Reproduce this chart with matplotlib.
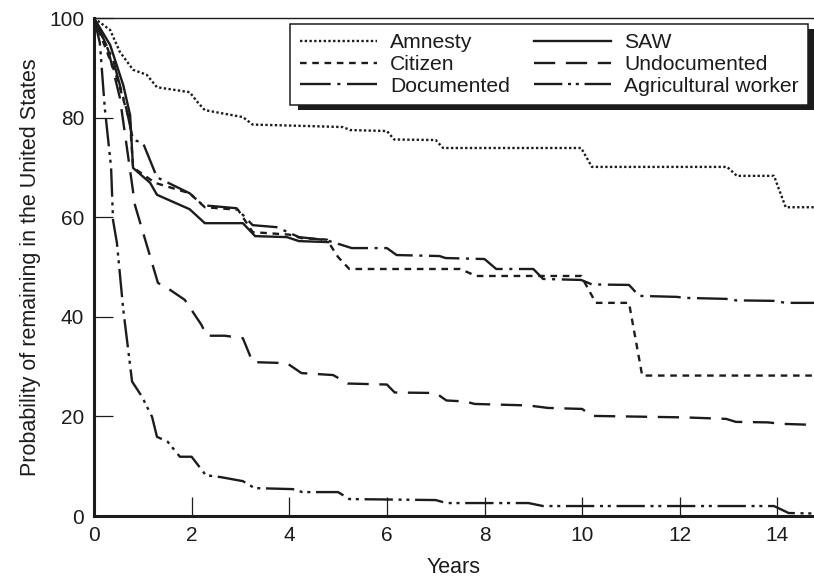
import matplotlib
matplotlib.use("Agg")
import matplotlib.pyplot as plt
import matplotlib.patheffects as pe

plt.rcParams['font.family'] = ['Liberation Sans', 'DejaVu Sans']

# curves (years, percent remaining)
amnesty_x = [0, 0.33, 0.53, 0.8, 1.08, 1.29, 1.96, 2.13, 2.27, 3.05, 3.25, 4.4, 5.1, 5.25, 6.0, 6.15, 7.0, 7.15,
             9.98, 10.2, 12.97, 13.17, 13.93, 14.17, 14.75]
amnesty_y = [100, 97.6, 93.2, 89.6, 88.6, 86.1, 85.1, 83, 81.5, 80.1, 78.6, 78.3, 78.1, 77.5, 77.3, 75.6, 75.5, 73.9,
             73.9, 70.1, 70.1, 68.3, 68.3, 62, 62]

citizen_x = [0, 0.47, 0.74, 0.8, 1.25, 1.96, 2.27, 2.95, 3.25, 4.0, 4.25, 4.77, 5.0, 5.23, 7.5, 7.83, 9.98, 10.28,
             10.96, 11.23, 14.75]
citizen_y = [100, 88, 79, 70, 66.9, 64.8, 62, 61.5, 57, 56.5, 55.8, 55.5, 52, 49.6, 49.6, 48.2, 48.2, 42.8,
             42.8, 28.2, 28.2]

documented_x = [0, 0.39, 0.67, 0.8, 1.0, 1.29, 1.96, 2.23, 2.92, 3.25, 3.74, 4.2, 4.76, 5.28, 6.0, 6.2, 7.08, 7.2,
                8.0, 8.24, 9.0, 9.2, 9.98, 10.2, 10.96, 11.17, 11.94, 12.1, 12.95, 13.15, 13.93, 14.17, 14.75]
documented_y = [100, 91.6, 81.5, 75.5, 75, 68, 64.8, 62.4, 61.8, 58.4, 58, 56, 55.4, 53.8, 53.8, 52.4, 52.2, 51.8,
                51.6, 49.6, 49.6, 47.6, 47.4, 46.5, 46.4, 44.2, 44.0, 43.8, 43.6, 43.3, 43.2, 42.8, 42.8]

saw_x = [0, 0.33, 0.6, 0.74, 0.8, 1.15, 1.29, 1.96, 2.27, 3.05, 3.3, 3.95, 4.2, 4.8]
saw_y = [100, 94.6, 86.5, 80.5, 69.9, 66.9, 64.5, 61.6, 58.8, 58.8, 56.2, 56, 55.2, 55]

undoc_x = [0, 0.29, 0.53, 0.84, 1.31, 1.5, 1.86, 2.2, 2.31, 2.68, 3.05, 3.25, 3.95, 4.25, 4.9, 5.2, 6.0, 6.16,
           7.0, 7.22, 7.6, 7.8, 8.9, 9.3, 10.0, 10.2, 12.1, 12.95, 13.15, 13.8, 14.1, 14.75]
undoc_y = [100, 93.6, 84, 62.4, 46.8, 45.8, 43.4, 38.4, 36.2, 36.2, 35.7, 30.9, 30.7, 28.7, 28.3, 26.6, 26.4, 24.8,
           24.7, 23.2, 23.0, 22.5, 22.2, 21.7, 21.5, 20.1, 19.8, 19.5, 18.9, 18.8, 18.5, 18.3]

agri_x = [0, 0.12, 0.22, 0.35, 0.39, 0.47, 0.6, 0.78, 0.98, 1.19, 1.29, 1.51, 1.76, 2.0, 2.29, 2.6, 3.05, 3.29,
          4.07, 4.27, 5.0, 5.23, 7.0, 7.22, 8.9, 9.2, 13.93, 14.23, 14.75]
agri_y = [100, 95, 82, 70, 59.4, 54.8, 41.4, 27, 24, 19.9, 15.9, 14.9, 11.9, 11.9, 8.2, 7.8, 7.0, 5.6,
          5.4, 4.8, 4.8, 3.4, 3.2, 2.6, 2.6, 2.0, 2.0, 0.6, 0.5]

ink = '#1c1c1c'
lw = 1.7

fig = plt.figure(figsize=(8.14, 5.81), dpi=100)
ax = fig.add_axes([94 / 814, 65 / 581, 720 / 814, 498 / 581])

ax.plot(amnesty_x, amnesty_y, color=ink, lw=lw, ls=(0, (1, 1)), label='Amnesty')
ax.plot(citizen_x, citizen_y, color=ink, lw=lw, ls=(0, (2.8, 2.4)), label='Citizen')
ax.plot(documented_x, documented_y, color=ink, lw=lw, ls=(0, (13, 2.8, 1.3, 2.8)), label='Documented')
ax.plot(saw_x, saw_y, color=ink, lw=lw, ls='-', label='SAW')
ax.plot(undoc_x, undoc_y, color=ink, lw=lw, ls=(0, (9, 4.5)), label='Undocumented')
ax.plot(agri_x, agri_y, color=ink, lw=lw, ls=(0, (12, 2.4, 1.3, 2, 1.3, 2.4)), label='Agricultural worker')

ax.set_xlim(0, 14.75)
ax.set_ylim(0, 100)
ax.set_xticks(range(0, 15, 2))
ax.set_yticks(range(0, 101, 20))
ax.tick_params(direction='in', length=14, width=0.9, colors=ink, labelsize=15, pad=7)

ax.spines['right'].set_visible(False)
ax.spines['left'].set_linewidth(2.2)
ax.spines['bottom'].set_linewidth(2.2)
ax.spines['top'].set_linewidth(1.0)
for s in ax.spines.values():
    s.set_color(ink)

ax.set_xlabel('Years', fontsize=15.5, color=ink, labelpad=9)
ax.set_ylabel('Probability of remaining in the United States', fontsize=15.5, color=ink, labelpad=6)

leg = ax.legend(ncol=2, loc='upper right', bbox_to_anchor=(0.992, 0.988), borderaxespad=0,
                fontsize=15.2, frameon=True, fancybox=False, framealpha=1, edgecolor=ink,
                handlelength=3.65, handletextpad=0.62, columnspacing=1.15, labelspacing=0.12,
                borderpad=0.45)
leg.get_frame().set_linewidth(1.1)
leg.get_frame().set_path_effects([pe.SimplePatchShadow(offset=(5.5, -3.8), shadow_rgbFace=ink, alpha=1),
                                  pe.Normal()])
for t in leg.get_texts():
    t.set_color(ink)

fig.savefig('out.png', dpi=100)
